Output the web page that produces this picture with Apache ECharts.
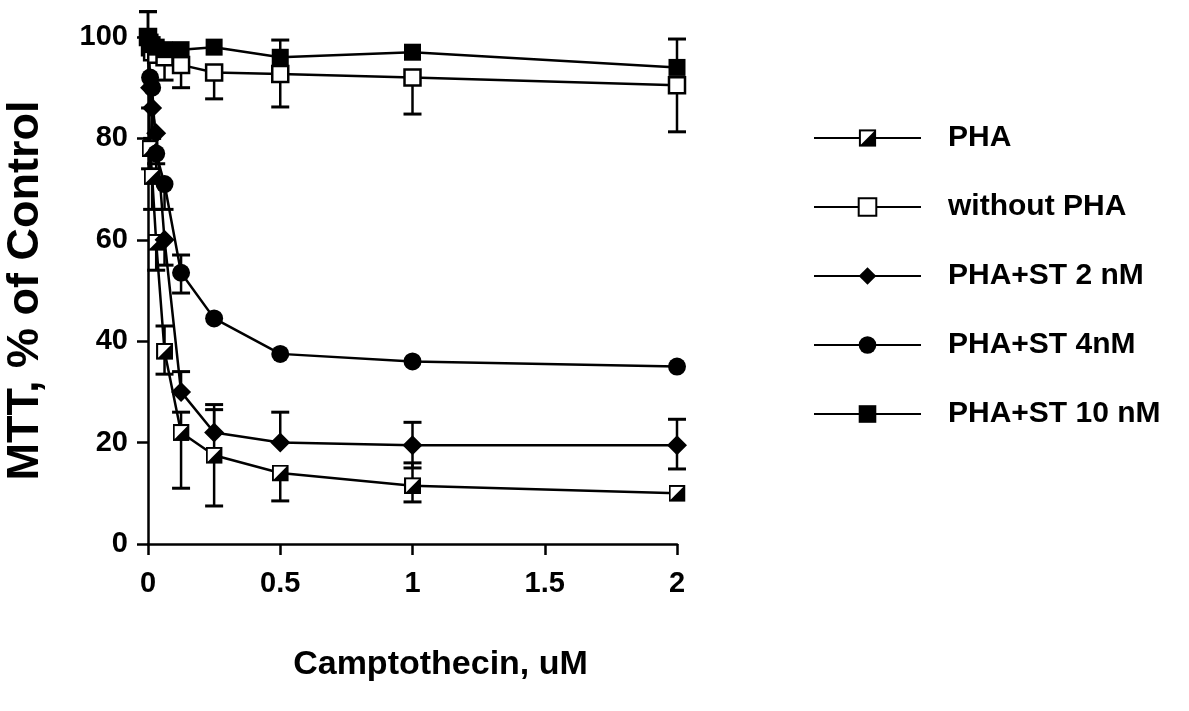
<!DOCTYPE html>
<html><head><meta charset="utf-8">
<script src="https://cdn.jsdelivr.net/npm/echarts@6/dist/echarts.min.js"></script>
<style>html,body{margin:0;padding:0;background:#fff}#c{width:1189px;height:711px}</style>
</head><body><div id="c"></div>
<script>
// Camptothecin concentrations (uM)
const conc = [0, 0.0078, 0.0156, 0.031, 0.0625, 0.125, 0.25, 0.5, 1, 2];
const seriesNames = ['PHA', 'without PHA', 'PHA+ST 2 nM', 'PHA+ST 4nM', 'PHA+ST 10 nM'];
// MTT, % of control
const pha      = [100, 78, 72.5, 59.5, 38, 22, 17.5, 14, 11.5, 10];
const noPha    = [100, 98, 97, 96.5, 96, 94.5, 93, 92.7, 92, 90.5];
const st2      = [100, 90, 86, 81, 60, 30, 22, 20, 19.5, 19.5];
const st4      = [100, 92, 90, 77, 71, 53.5, 44.5, 37.5, 36, 35];
const st10     = [100, 99, 98.5, 98, 97.5, 97.5, 98, 96, 97, 94];
// error bar tips (null = not drawn)
const phaUp    = [105, null, null, null, 43, 26, 26.5, null, 16, null];
const phaDown  = [null, 74, 66, 54, 33.5, 11, 7.5, 8.5, 8.3, null];
const noPhaDown= [null, null, null, null, 91.5, 90, 87.8, 86.2, 84.8, 81.3];
const st2Up    = [null, null, null, null, null, 34, 27.5, 26, 24, 24.6];
const st2Down  = [null, 86, 80, 75, 55, null, null, null, 15, 14.8];
const st4Up    = [null, null, null, null, null, 57, null, null, null, null];
const st4Down  = [null, null, null, 72, 66, 49.5, null, null, null, null];
const st10Up   = [105, null, null, null, null, null, null, 99.4, null, 99.6];

const halfSquare = 'image://data:image/svg+xml;utf8,' + encodeURIComponent(
  '<svg xmlns="http://www.w3.org/2000/svg" width="40" height="40" viewBox="0 0 40 40">' +
  '<rect x="2.5" y="2.5" width="35" height="35" fill="#fff" stroke="#000" stroke-width="5"/>' +
  '<polygon points="37.5,2.5 37.5,37.5 2.5,37.5" fill="#000"/></svg>');

function pairs(vals) { return conc.map((x, i) => [x, vals[i]]); }
function errData(vals, tips) {
  const out = [];
  conc.forEach((x, i) => { if (tips[i] != null) out.push([x, vals[i], tips[i]]); });
  return out;
}
const allErr = [].concat(
  errData(pha, phaUp), errData(pha, phaDown), errData(noPha, noPhaDown),
  errData(st2, st2Up), errData(st2, st2Down), errData(st4, st4Up),
  errData(st4, st4Down), errData(st10, st10Up));

function renderErr(params, api) {
  const x = api.value(0), y = api.value(1), t = api.value(2);
  const p0 = api.coord([x, y]), p1 = api.coord([x, t]);
  const h = 9;
  return { type: 'group', children: [
    { type: 'line', shape: { x1: p0[0], y1: p0[1], x2: p1[0], y2: p1[1] }, style: { stroke: '#000', lineWidth: 2.5 } },
    { type: 'line', shape: { x1: p1[0] - h, y1: p1[1], x2: p1[0] + h, y2: p1[1] }, style: { stroke: '#000', lineWidth: 3 } }
  ]};
}

const font = 'Liberation Sans, Arial, sans-serif';
function lineSeries(name, vals, symbol, size, fill) {
  return {
    name: name, type: 'line', data: pairs(vals), symbol: symbol, symbolSize: size,
    clip: false, z: 3,
    lineStyle: { color: '#000', width: 2.5 },
    itemStyle: { color: fill, borderColor: '#000', borderWidth: fill === '#fff' ? 2.5 : 0 },
    emphasis: { disabled: true }
  };
}

const chart = echarts.init(document.getElementById('c'), null, { renderer: 'canvas' });
chart.setOption({
  backgroundColor: '#fff',
  animation: false,
  grid: { left: 148, right: 512, top: 37, bottom: 167 },
  xAxis: {
    type: 'value', min: 0, max: 2, interval: 0.5,
    name: 'Camptothecin, uM', nameLocation: 'middle', nameGap: 104,
    nameTextStyle: { fontFamily: font, fontWeight: 'bold', fontSize: 34, color: '#000', padding: [0, 0, 0, 56] },
    axisLine: { onZero: false, lineStyle: { color: '#000', width: 2.5 } },
    axisTick: { length: 11, lineStyle: { color: '#000', width: 2.5 } },
    axisLabel: { margin: 25, fontFamily: font, fontWeight: 'bold', fontSize: 29, color: '#000' },
    splitLine: { show: false }
  },
  yAxis: {
    type: 'value', min: 0, max: 100, interval: 20,
    name: 'MTT, % of Control', nameLocation: 'middle', nameGap: 100,
    nameTextStyle: { fontFamily: font, fontWeight: 'bold', fontSize: 45, color: '#000' },
    axisLine: { show: true, onZero: false, lineStyle: { color: '#000', width: 2.5 } },
    axisTick: { show: true, length: 11, lineStyle: { color: '#000', width: 2.5 } },
    axisLabel: { margin: 20, fontFamily: font, fontWeight: 'bold', fontSize: 29, color: '#000' },
    splitLine: { show: false }
  },
  legend: {
    data: seriesNames, orient: 'vertical', left: 808, top: 118,
    itemWidth: 107, itemHeight: 22, itemGap: 39,
    selectedMode: false,
    lineStyle: { width: 2 },
    textStyle: { fontFamily: font, fontWeight: 'bold', fontSize: 30, color: '#000', padding: [0, 0, 0, 22] }
  },
  series: [
    { type: 'custom', name: 'err', renderItem: renderErr, data: allErr, z: 2, clip: false,
      encode: { x: 0, y: [1, 2] }, silent: true },
    lineSeries(seriesNames[0], pha, halfSquare, 17, '#000'),
    lineSeries(seriesNames[1], noPha, 'rect', 16, '#fff'),
    lineSeries(seriesNames[2], st2, 'diamond', 20, '#000'),
    lineSeries(seriesNames[3], st4, 'circle', 18, '#000'),
    lineSeries(seriesNames[4], st10, 'rect', 17, '#000')
  ]
});
</script>
</body></html>
